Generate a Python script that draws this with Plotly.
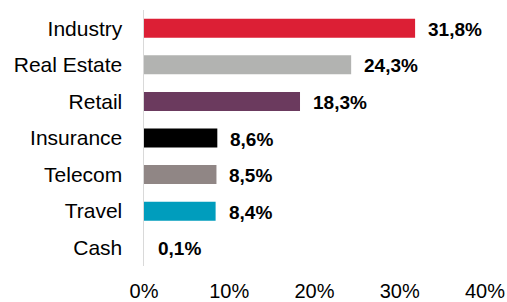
import plotly.graph_objects as go

categories = ["Industry", "Real Estate", "Retail", "Insurance", "Telecom", "Travel", "Cash"]
values = [31.8, 24.3, 18.3, 8.6, 8.5, 8.4, 0.1]
labels = ["31,8%", "24,3%", "18,3%", "8,6%", "8,5%", "8,4%", "0,1%"]
colors = ["#DC1F35", "#B2B3B1", "#6B3A5E", "#000000", "#908685", "#009DBD", "#FFFFFF"]
tick_vals = [0, 10, 20, 30, 40]
tick_text = ["0%", "10%", "20%", "30%", "40%"]

fig = go.Figure(go.Bar(
    x=values, y=categories, orientation="h",
    marker=dict(color=colors, line=dict(width=0)),
    width=0.52, hoverinfo="skip",
))

for v, c, t in zip(values, categories, labels):
    fig.add_annotation(x=v, y=c, text="<b>%s</b>" % t, showarrow=False,
                       xanchor="left", xshift=11, yshift=-1,
                       font=dict(family="Liberation Sans, Arial", size=19, color="#000000"))

fig.update_layout(
    width=507, height=302,
    margin=dict(l=144, r=22, t=10, b=36, autoexpand=False),
    paper_bgcolor="white", plot_bgcolor="white",
    showlegend=False,
    font=dict(family="Liberation Sans, Arial", color="#000000"),
    xaxis=dict(range=[0, 40], tickvals=tick_vals, ticktext=tick_text,
               showgrid=False, zeroline=False, showline=False, automargin=False,
               tickfont=dict(size=20), ticklabelstandoff=11, fixedrange=True),
    yaxis=dict(categoryorder="array", categoryarray=categories[::-1],
               autorange=False, range=[-0.5, 6.5], automargin=False,
               showgrid=False, zeroline=False, showline=True,
               linecolor="#D9D9D9", linewidth=1.5,
               tickfont=dict(size=21), ticklabelstandoff=16, fixedrange=True),
)

fig.write_html("out.html", config={"displayModeBar": False, "staticPlot": True},
               post_script="document.body.style.margin='0';document.body.style.overflow='hidden';")
